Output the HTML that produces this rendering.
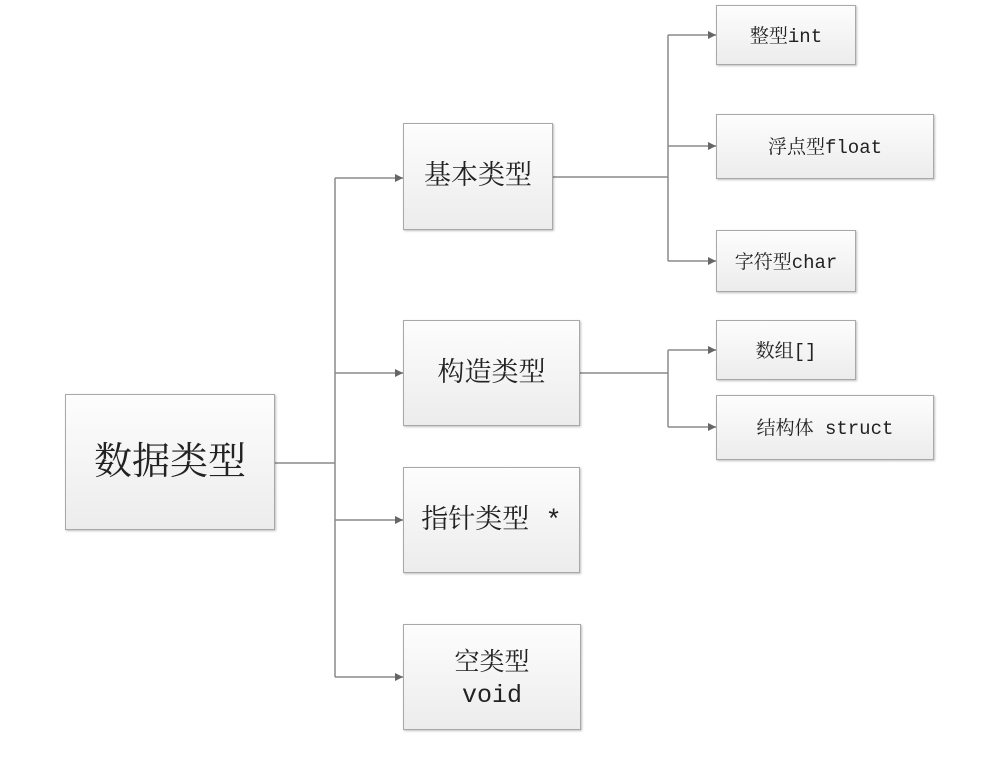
<!DOCTYPE html>
<html><head><meta charset="utf-8"><style>
body{margin:0;width:1004px;height:757px;background:#fff;position:relative;overflow:hidden}
.b{position:absolute;box-sizing:border-box;border:1.5px solid #a8a8a8;background:linear-gradient(#fdfdfd,#ececec);box-shadow:1px 1px 2px rgba(0,0,0,0.25);display:flex;align-items:center;justify-content:center;text-align:center;color:#222;font-family:"Liberation Mono","Noto Serif CJK SC",serif;line-height:1.25;padding-top:5px}
svg{position:absolute;left:0;top:0}
</style></head><body>
<svg width="1004" height="757">
<defs><marker id="a" markerWidth="8" markerHeight="8" refX="8" refY="4" orient="auto" markerUnits="userSpaceOnUse"><path d="M0,0L8,4L0,8z" fill="#666"/></marker></defs>
<g stroke="#8a8a8a" stroke-width="1.5" fill="none">
<line x1="275" y1="463" x2="335" y2="463"/>
<line x1="335" y1="178" x2="335" y2="677"/>
<line x1="335" y1="178" x2="403" y2="178" marker-end="url(#a)"/>
<line x1="335" y1="373" x2="403" y2="373" marker-end="url(#a)"/>
<line x1="335" y1="520" x2="403" y2="520" marker-end="url(#a)"/>
<line x1="335" y1="677" x2="403" y2="677" marker-end="url(#a)"/>
<line x1="553" y1="177" x2="668" y2="177"/>
<line x1="668" y1="35" x2="668" y2="261"/>
<line x1="668" y1="35" x2="716" y2="35" marker-end="url(#a)"/>
<line x1="668" y1="146" x2="716" y2="146" marker-end="url(#a)"/>
<line x1="668" y1="261" x2="716" y2="261" marker-end="url(#a)"/>
<line x1="580" y1="373" x2="668" y2="373"/>
<line x1="668" y1="350" x2="668" y2="427"/>
<line x1="668" y1="350" x2="716" y2="350" marker-end="url(#a)"/>
<line x1="668" y1="427" x2="716" y2="427" marker-end="url(#a)"/>
</g></svg>
<div class="b" style="left:65px;top:394px;width:210px;height:136px;font-size:38px">数据类型</div>
<div class="b" style="left:403px;top:123px;width:150px;height:107px;font-size:27px">基本类型</div>
<div class="b" style="left:403px;top:320px;width:177px;height:106px;font-size:27px">构造类型</div>
<div class="b" style="left:403px;top:467px;width:177px;height:106px;font-size:27px">指针类型 *</div>
<div class="b" style="left:403px;top:624px;width:178px;height:106px;font-size:25px">空类型<br>void</div>
<div class="b" style="left:716px;top:5px;width:140px;height:60px;font-size:19px">整型int</div>
<div class="b" style="left:716px;top:114px;width:218px;height:65px;font-size:19px">浮点型float</div>
<div class="b" style="left:716px;top:230px;width:140px;height:62px;font-size:19px">字符型char</div>
<div class="b" style="left:716px;top:320px;width:140px;height:60px;font-size:19px">数组[]</div>
<div class="b" style="left:716px;top:395px;width:218px;height:65px;font-size:19px">结构体 struct</div>
</body></html>
